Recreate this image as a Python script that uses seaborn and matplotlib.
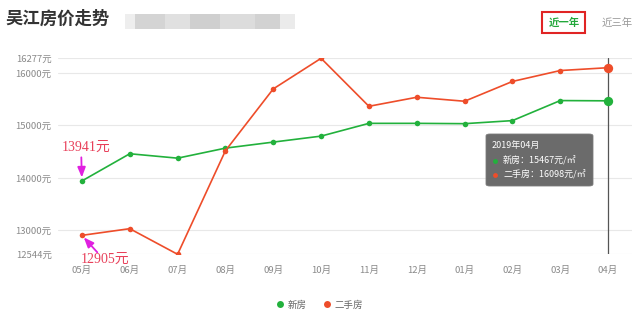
import numpy as np
import pandas as pd
import matplotlib
matplotlib.use("Agg")
import matplotlib.pyplot as plt
from matplotlib.patches import FancyBboxPatch, Rectangle
from matplotlib.lines import Line2D
import seaborn as sns

months = ["05月", "06月", "07月", "08月", "09月", "10月", "11月", "12月", "01月", "02月", "03月", "04月"]
new_house = [13941, 14459, 14375, 14566, 14681, 14795, 15038, 15038, 15032, 15090, 15472, 15467]
second_hand = [12905, 13032, 12544, 14516, 15694, 16277, 15363, 15535, 15459, 15836, 16044, 16098]
series_names = ["新房", "二手房"]
yticks = [12544, 13000, 14000, 15000, 16000, 16277]
ytick_labels = ["12544元", "13000元", "14000元", "15000元", "16000元", "16277元"]
title = "吴江房价走势"
tip_title = "2019年04月"
tip_lines = ["新房：15467元/㎡", "二手房：16098元/㎡"]

GREEN = "#22b13c"
RED = "#ee4d2a"

sns.set_theme(style="white")
plt.rcParams["font.family"] = ["Noto Sans CJK SC", "DejaVu Sans"]

idx = np.arange(len(months))
df = pd.DataFrame({
    "x": np.concatenate([idx, idx]),
    "price": new_house + second_hand,
    "series": [series_names[0]] * len(months) + [series_names[1]] * len(months),
})

fig = plt.figure(figsize=(6.4, 3.19), dpi=100)
ax = fig.add_axes([58 / 640, 1 - 254.3 / 319, (632 - 58) / 640, (254.3 - 58.3) / 319])

sns.lineplot(data=df, x="x", y="price", hue="series", palette=[GREEN, RED],
             marker="o", markersize=4, markeredgewidth=0, linewidth=1.2,
             legend=False, ax=ax, zorder=3)

# highlighted last points
ax.scatter([idx[-1]], [new_house[-1]], s=45, color=GREEN, zorder=5, linewidths=0)
ax.scatter([idx[-1]], [second_hand[-1]], s=45, color=RED, zorder=5, linewidths=0)
ax.axvline(idx[-1], color="#555555", lw=0.9, zorder=4)

ax.set_xlim(-0.5, len(months) - 0.5)
ax.set_ylim(yticks[0], yticks[-1])
ax.set_yticks(yticks)
ax.set_yticklabels(ytick_labels)
ax.set_xticks(idx)
ax.set_xticklabels(months)
ax.set_xlabel("")
ax.set_ylabel("")
for s in ax.spines.values():
    s.set_visible(False)
ax.grid(axis="y", color="#e8e8e8", lw=0.8)
ax.grid(axis="x", visible=False)
ax.tick_params(axis="y", length=0, pad=4.5, labelsize=6.8, labelcolor="#8a8a8a")
ax.tick_params(axis="x", length=0, pad=8, labelsize=6.8, labelcolor="#8a8a8a")

# annotations
serif = ["Liberation Serif", "Noto Sans CJK SC"]
ann_color = "#e8405a"
arrow_color = "#e020e0"
ax.annotate("", xy=(idx[0], new_house[0]), xytext=(-0.6, 23.6), textcoords="offset pixels",
            arrowprops=dict(arrowstyle="-|>,head_length=0.5,head_width=0.2", color=arrow_color,
                            lw=1.3, shrinkA=0, shrinkB=2.5))
ax.annotate(f"{new_house[0]}元", xy=(idx[0], new_house[0]), xytext=(4, 34), textcoords="offset pixels",
            ha="center", va="center", fontsize=10, color=ann_color, family=serif)
ax.annotate("", xy=(idx[0], second_hand[0]), xytext=(15.4, -17), textcoords="offset pixels",
            arrowprops=dict(arrowstyle="-|>,head_length=0.5,head_width=0.2", color=arrow_color,
                            lw=1.3, shrinkA=0, shrinkB=2))
ax.annotate(f"{second_hand[0]}元", xy=(idx[0], second_hand[0]), xytext=(23, -24), textcoords="offset pixels",
            ha="center", va="center", fontsize=10, color=ann_color, family=serif)

# tooltip
def fp(x, y):
    return (x / 640, 1 - y / 319)

tx0, ty0 = fp(486, 186)
tx1, ty1 = fp(593, 134)
box = FancyBboxPatch((tx0, ty0), tx1 - tx0, ty1 - ty0,
                     boxstyle="round,pad=0,rounding_size=0.006", transform=fig.transFigure,
                     facecolor="#666666", edgecolor="#7a7a7a", lw=0.6, alpha=0.97, zorder=10)
fig.patches.append(box)
fig.text(*fp(492, 145), tip_title, color="white", fontsize=6.5, va="center", ha="left", zorder=11)
fig.text(*fp(503, 160.5), tip_lines[0], color="white", fontsize=6.5, va="center", ha="left", zorder=11)
fig.text(*fp(503, 175), tip_lines[1], color="white", fontsize=6.5, va="center", ha="left", zorder=11)
fig.add_artist(Line2D([fp(495, 0)[0]], [fp(0, 160.5)[1]], marker="o", color=GREEN, markersize=3.5,
                      markeredgewidth=0, transform=fig.transFigure, zorder=11))
fig.add_artist(Line2D([fp(495, 0)[0]], [fp(0, 175)[1]], marker="o", color=RED, markersize=3.5,
                      markeredgewidth=0, transform=fig.transFigure, zorder=11))

# title and blurred strip
fig.text(*fp(5, 19), title, fontsize=12.5, fontweight="bold", color="#333333", va="center", ha="left")
blur = [(125, 135, "#eeeeee"), (135, 165, "#d4d4d4"), (165, 190, "#e0e0e0"), (190, 220, "#cfcfcf"),
        (220, 255, "#dcdcdc"), (255, 280, "#d2d2d2"), (280, 295, "#ebebeb")]
for x0, x1, c in blur:
    a = fp(x0, 29)
    fig.patches.append(Rectangle(a, (x1 - x0) / 640, 15 / 319, transform=fig.transFigure,
                                 facecolor=c, edgecolor="none"))

# period switch
fig.text(*fp(564, 22.5), "近一年", fontsize=7.5, fontweight="bold", color="#22a83a", ha="center", va="center")
b0 = fp(542, 33)
fig.patches.append(Rectangle(b0, 43 / 640, 21 / 319, transform=fig.transFigure,
                             facecolor="none", edgecolor="#e02424", lw=1.5))
fig.text(*fp(617, 22.5), "近三年", fontsize=7.5, color="#999999", ha="center", va="center")

# legend
handles = [Line2D([], [], marker="o", ls="none", color=GREEN, markersize=5, markeredgewidth=0),
           Line2D([], [], marker="o", ls="none", color=RED, markersize=5, markeredgewidth=0)]
leg = fig.legend(handles, series_names, loc="center", bbox_to_anchor=(0.499, 1 - 305 / 319), ncol=2,
                 frameon=False, fontsize=6.8, handletextpad=0.3, columnspacing=1.6, handlelength=1.0)
for t in leg.get_texts():
    t.set_color("#666666")

fig.savefig("out.png", dpi=100)
